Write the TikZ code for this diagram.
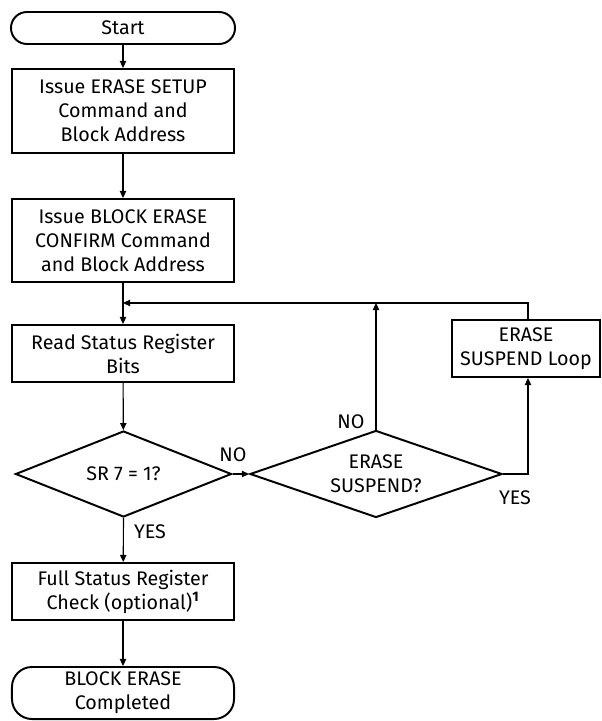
\documentclass[tikz,border=0pt]{standalone}
\usepackage{fontspec}
\setmainfont{Fira Sans}
\usetikzlibrary{arrows.meta,shapes.geometric}
\tikzset{
	box/.style={draw, line width=1.4pt, align=center, inner sep=0pt, minimum width=5.55cm},
	term/.style={box, rounded corners=0.4cm},
	test/.style={draw, line width=1.4pt, diamond, aspect=2.4, align=center, inner sep=0pt},
	link/.style={line width=0.8pt, -{Triangle[length=5pt,width=4.5pt]}},
	lbl/.style={inner sep=0pt}
}

\begin{document}
\begin{tikzpicture}[x=0.025cm, y=-0.025cm, font={\fontsize{14}{17}\selectfont}]
			%%%%% START %%%%%
			\useasboundingbox (0, 0) rectangle (602, 721);
			
			\node[term, minimum width=5.6cm, minimum height=0.8cm] (start) at (123, 28) {Start};
			\node[box, minimum height=2.1cm] (setup) at (123, 111) {Issue ERASE SETUP\\Command and\\Block Address};
			\node[box, minimum height=2.075cm] (confirm) at (123, 240.5) {Issue BLOCK ERASE\\CONFIRM Command\\and Block Address};
			\node[box, minimum height=1.425cm] (read) at (123, 353.5) {Read Status Register\\Bits};
			\node[test, minimum width=5.4cm, minimum height=2.15cm] (sr) at (123.5, 474) {SR 7 = 1?};
			\node[test, minimum width=6.3cm, minimum height=2.175cm] (susp) at (376, 474) {ERASE\\SUSPEND?};
			\node[box, minimum width=3.7cm, minimum height=1.425cm] (loop) at (526, 348.5) {ERASE\\SUSPEND Loop};
			\node[box, minimum height=1.425cm] (full) at (123, 591.5) {Full Status Register\\Check (optional)$^{\mathbf{1}}$};
			\node[box, rounded corners=0.5cm, minimum height=1.3cm] (done) at (123, 693) {BLOCK ERASE\\Completed};
			
			\coordinate (join) at (123, 303);
			\coordinate (turn) at (528, 474);
			
			\draw[link] (start) -- (setup);
			\draw[link] (setup) -- (confirm);
			\draw[link] (confirm) -- (read);
			\draw[link] (read) -- (sr);
			\draw[link] (sr.east) -- (susp.west);
			\draw[link] (sr.south) -- (full);
			\draw[link] (full) -- (done);
			
			\draw[link] (susp.north) -- (susp.north |- join);
			\draw[link] (susp.east) -- (turn) -- (turn |- loop.south);
			\draw[link] (turn |- loop.north) -- (turn |- join) -- (join);
			
			\node[lbl] (srno) at (233, 455) {NO};
			\node[lbl] (srye) at (150, 532) {YES};
			\node[lbl] (suno) at (351, 422) {NO};
			\node[lbl] (suye) at (515, 498) {YES};
			%%%%% END %%%%%
\end{tikzpicture}
\end{document}
